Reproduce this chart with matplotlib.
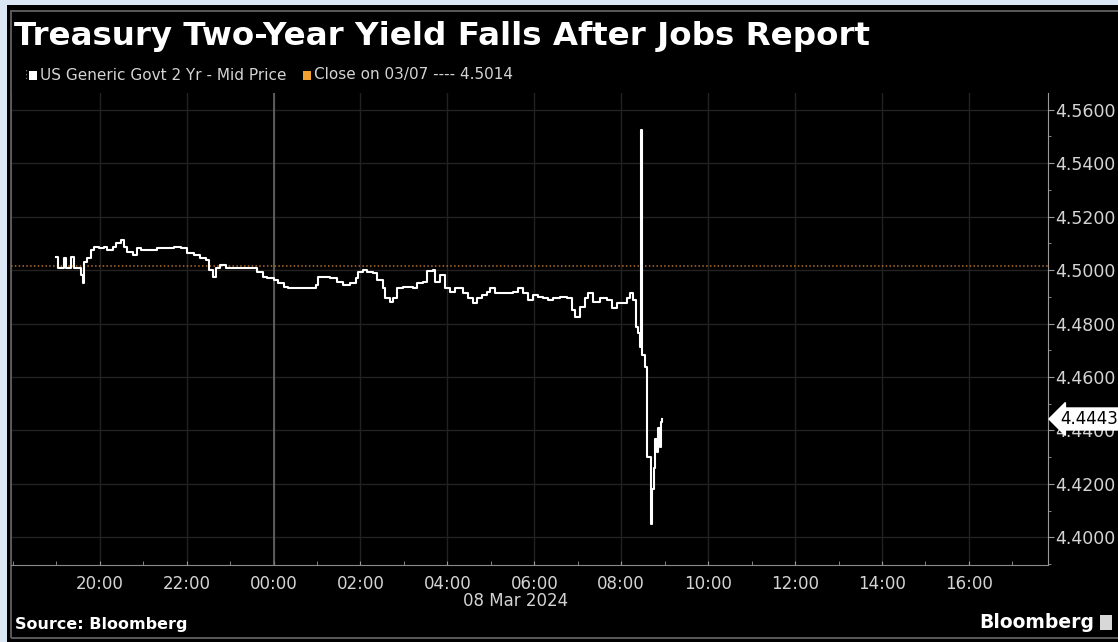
"""Treasury two-year yield around the March 8, 2024 jobs report (Bloomberg style)."""

import matplotlib.dates as mdates
import matplotlib.pyplot as plt
import pandas as pd
from matplotlib.patches import Rectangle
from matplotlib.ticker import FormatStrFormatter, MultipleLocator

W, H = 1118, 642
BG = "#dbe7f4"
INK = "#d4d4d4"
GRID = "#222222"

title = "Treasury Two-Year Yield Falls After Jobs Report"
series_name = "US Generic Govt 2 Yr - Mid Price"
close_label = "Close on 03/07 ---- 4.5014"
close_value = 4.5014
last_value = 4.4443
label_hours = [20, 22, 0, 2, 4, 6, 8, 10, 12, 14, 16]

# hours relative to 08 Mar 2024 00:00, yield in %
hours = [-5.01, -4.97, -4.83, -4.78, -4.67, -4.60, -4.44, -4.39, -4.37, -4.28,
         -4.21, -4.14, -4.02, -3.91, -3.82, -3.70, -3.63, -3.52, -3.45, -3.36,
         -3.24, -3.13, -3.06, -2.67, -2.30, -2.14, -1.98, -1.84, -1.68, -1.56,
         -1.49, -1.40, -1.33, -1.22, -1.10, -0.37, -0.25, -0.14, 0.00, 0.11,
         0.23, 0.34, 0.97, 1.03, 1.31, 1.47, 1.61, 1.77, 1.89, 1.95,
         2.05, 2.16, 2.28, 2.39, 2.51, 2.57, 2.69, 2.76, 2.85, 2.97,
         3.20, 3.31, 3.43, 3.54, 3.66, 3.72, 3.84, 3.95, 4.07, 4.18,
         4.37, 4.48, 4.60, 4.69, 4.80, 4.92, 4.99, 5.10, 5.52, 5.63,
         5.75, 5.86, 5.98, 6.09, 6.21, 6.32, 6.44, 6.60, 6.76, 6.87,
         6.94, 7.06, 7.17, 7.24, 7.36, 7.52, 7.68, 7.79, 7.91, 8.14,
         8.21, 8.28, 8.34, 8.39, 8.44, 8.46, 8.48, 8.55, 8.60, 8.69,
         8.71, 8.76, 8.78, 8.83, 8.85, 8.90, 8.92, 8.94]
yields = [4.5049, 4.5007, 4.5045, 4.5007, 4.5049, 4.5007, 4.4981, 4.4951, 4.5030, 4.5045,
          4.5075, 4.5086, 4.5082, 4.5086, 4.5075, 4.5086, 4.5101, 4.5112, 4.5086, 4.5067,
          4.5056, 4.5082, 4.5075, 4.5082, 4.5086, 4.5082, 4.5064, 4.5056, 4.5045, 4.5037,
          4.5000, 4.4974, 4.5007, 4.5019, 4.5007, 4.4993, 4.4974, 4.4970, 4.4963, 4.4951,
          4.4936, 4.4933, 4.4944, 4.4974, 4.4970, 4.4955, 4.4944, 4.4951, 4.4970, 4.4993,
          4.5000, 4.4993, 4.4989, 4.4963, 4.4933, 4.4895, 4.4880, 4.4895, 4.4933, 4.4936,
          4.4933, 4.4951, 4.4955, 4.4995, 4.5000, 4.4955, 4.4981, 4.4933, 4.4918, 4.4933,
          4.4914, 4.4895, 4.4877, 4.4895, 4.4907, 4.4918, 4.4933, 4.4914, 4.4918, 4.4933,
          4.4914, 4.4888, 4.4907, 4.4899, 4.4895, 4.4888, 4.4895, 4.4899, 4.4895, 4.4850,
          4.4824, 4.4862, 4.4895, 4.4914, 4.4880, 4.4895, 4.4888, 4.4858, 4.4877, 4.4895,
          4.4914, 4.4888, 4.4787, 4.4764, 4.4712, 4.5523, 4.4682, 4.4637, 4.4300, 4.4050,
          4.4180, 4.4260, 4.4370, 4.4320, 4.4410, 4.4340, 4.4430, 4.4443]

base = pd.Timestamp("2024-03-08")
times = base + pd.to_timedelta(hours, unit="h")


def fx(px):
    return px / W


def fy(py):
    return 1 - py / H


fig = plt.figure(figsize=(W / 100, H / 100), dpi=100, facecolor=BG)
fig.patches.append(Rectangle((fx(7), 0), 1, fy(5), transform=fig.transFigure,
                             facecolor="black", edgecolor="none", zorder=-3))
fig.patches.append(Rectangle((fx(11), fy(638)), 1, fy(11) - fy(638), transform=fig.transFigure,
                             facecolor="none", edgecolor="#5a5a5a", lw=1.4, zorder=-2))

ax = fig.add_axes([fx(11), fy(565), fx(1048) - fx(11), fy(93) - fy(565)])
ax.set_facecolor("black")

ax.plot(times, yields, color="white", lw=1.5, drawstyle="steps-post", zorder=4)
ax.axhline(close_value, color="#b06e2a", lw=1.1, ls=(0, (1, 1.5)), zorder=3)
# day separator
ax.axvline(base, color="#707070", lw=1.1, zorder=2)

ax.set_xlim(base - pd.Timedelta(hours=6.04), base + pd.Timedelta(hours=17.82))
ax.set_ylim(4.3897, 4.5662)

ax.xaxis.set_major_locator(mdates.HourLocator(byhour=label_hours))
ax.xaxis.set_minor_locator(mdates.HourLocator())
ax.xaxis.set_major_formatter(mdates.DateFormatter("%H:%M"))
ax.yaxis.set_major_locator(MultipleLocator(0.02))
ax.yaxis.set_minor_locator(MultipleLocator(0.01))
ax.yaxis.set_major_formatter(FormatStrFormatter("%.4f"))
ax.yaxis.tick_right()

ax.grid(True, which="major", color=GRID, lw=1)

ax.tick_params(axis="x", which="both", colors="#9a9a9a", labelcolor=INK, labelsize=12,
               direction="in", length=3, pad=7)
ax.tick_params(axis="y", which="major", colors="#9a9a9a", labelcolor=INK, labelsize=12.5,
               direction="out", length=4, pad=1)
ax.tick_params(axis="y", which="minor", colors="#9a9a9a", direction="out", length=2.5)

ax.spines["top"].set_visible(False)
ax.spines["left"].set_color("#5a5a5a")
ax.spines["bottom"].set_color("#8a8a8a")
ax.spines["right"].set_color("#9a9a9a")

# last value tag on the right axis
ax.annotate(f"{last_value:.4f}", xy=(1.0, last_value), xycoords=("axes fraction", "data"),
            xytext=(9, 0), textcoords="offset points", ha="left", va="center",
            fontsize=12, color="black", zorder=10, annotation_clip=False,
            bbox=dict(boxstyle="larrow,pad=0.12", fc="white", ec="white"))

fig.text(fx(14), fy(36), title, color="white", fontsize=23.4, fontweight="bold",
         va="center", ha="left")

# legend row
fig.text(fx(20), fy(75), "\u22ee", color="#777777", fontsize=8, va="center")
fig.patches.append(Rectangle((fx(29), fy(80)), fx(8), fy(71) - fy(80), transform=fig.transFigure,
                             facecolor="white", edgecolor="none"))
fig.text(fx(40), fy(75), series_name, color=INK, fontsize=11, va="center", ha="left")
fig.patches.append(Rectangle((fx(303), fy(80)), fx(8), fy(71) - fy(80), transform=fig.transFigure,
                             facecolor="#f0a030", edgecolor="none"))
fig.text(fx(314), fy(75), close_label, color=INK, fontsize=11, va="center", ha="left")

fig.text(fx(516), fy(601), "08 Mar 2024", color=INK, fontsize=12, va="center", ha="center")
fig.text(fx(15), fy(625), "Source: Bloomberg", color="white", fontsize=11.5,
         fontweight="bold", va="center", ha="left")
fig.text(fx(1094), fy(622), "Bloomberg", color="white", fontsize=13.5, fontweight="semibold",
         va="center", ha="right")
fig.patches.append(Rectangle((fx(1100), fy(630)), fx(12), fy(615) - fy(630),
                             transform=fig.transFigure, facecolor="#d8d8d8", edgecolor="none"))

fig.savefig("out.png", dpi=100, facecolor=BG)
